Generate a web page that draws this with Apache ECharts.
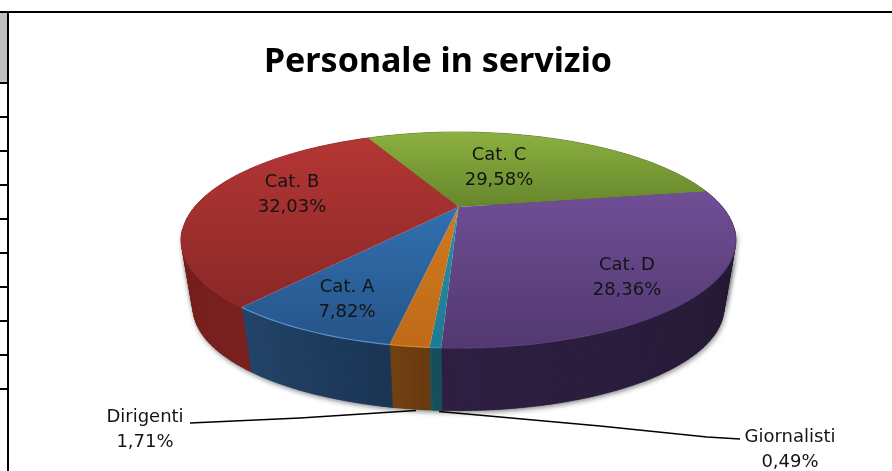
<!DOCTYPE html>
<html>
<head>
<meta charset="utf-8">
<style>
  html, body { margin: 0; padding: 0; background: #fff; }
  #chart { width: 892px; height: 471px; }
</style>
<script src="https://cdn.jsdelivr.net/npm/echarts@6/dist/echarts.min.js"></script>
</head>
<body>
<div id="chart"></div>
<script>
const categories = ['Cat. C', 'Cat. D', 'Giornalisti', 'Dirigenti', 'Cat. A', 'Cat. B'];
const percentages = [29.58, 28.36, 0.49, 1.71, 7.82, 32.03];

const topColors = [
  ['#8cb040', '#66862c'],
  ['#704e96', '#523870'],
  ['#2590a8', '#1f7a90'],
  ['#d07a20', '#be6a18'],
  ['#3270b0', '#265488'],
  ['#b43634', '#8a2827']
];
// first colour at the start of the slice, going clockwise
const wallColors = [
  ['#3e5218', '#4c6420'],
  ['#20162e', '#2e1f42'],
  ['#134854', '#175868'],
  ['#683810', '#74400f'],
  ['#1a3555', '#224468'],
  ['#7a201e', '#6c1c1a']
];
const rimColors = ['#8cb040', '#5a3f7c', '#2a90a8', '#d8862c', '#5a92cc', '#962c2a'];

// label centres, two lines each, same order as categories
const LABEL_POS = [[499, 168], [627, 278], [790, 450], [145, 430], [347, 300], [292, 195]];

const START_ANGLE = -26;
const STEP = 1.5;
// perspective disc, top face and bottom face of the pie
const TOP_FACE = { cx: 458.5, cy: 207, a: 264, b: 97.9 };
const BOTTOM_FACE = { cx: 458.5, cy: 276, a: 252.8, b: 93.5 };
const PERSPECTIVE = 0.3056;

const LABEL_FONT = '"DejaVu Sans", sans-serif';
const TABLE_ROWS = [83, 117, 151, 185, 219, 253, 287, 321, 355, 389];

function project(face, deg) {
  const t = deg * Math.PI / 180;
  const u = Math.sin(t);
  const v = -Math.cos(t);
  const w = 1 - PERSPECTIVE * v;
  return [face.cx + face.a * u / w, face.cy + face.b * v / w];
}

function arcPoints(face, from, to) {
  const pts = [];
  for (let d = from; d < to; d += STEP) pts.push(project(face, d));
  pts.push(project(face, to));
  return pts;
}

function isFront(deg) {
  return Math.cos(deg * Math.PI / 180) < -0.2;
}

const total = percentages.reduce((sum, p) => sum + p, 0);
let runningAngle = START_ANGLE;
const sliceRows = percentages.map((p, i) => {
  const from = runningAngle;
  runningAngle += p / total * 360;
  return [from, runningAngle, i];
});

function vertical(colors) {
  return new echarts.graphic.LinearGradient(0, 0, 0, 1, [
    { offset: 0, color: colors[0] },
    { offset: 1, color: colors[1] }
  ]);
}

// the wall has to be a strip of quads, one polygon would miss the silhouette at the sides
function wallQuads(from, to) {
  const quads = [];
  for (let d = from; d < to; d += STEP) {
    const next = Math.min(d + STEP, to);
    quads.push({
      mid: (d + next) / 2,
      points: [project(TOP_FACE, d), project(TOP_FACE, next), project(BOTTOM_FACE, next), project(BOTTOM_FACE, d)]
    });
  }
  return quads;
}

function renderShadow(params, api) {
  const quads = wallQuads(api.value(0), api.value(1)).filter(q => isFront(q.mid));
  return {
    type: 'group',
    children: quads.map(q => ({
      type: 'polygon',
      shape: { points: q.points },
      style: { fill: '#444', shadowBlur: 5, shadowColor: 'rgba(0,0,0,0.5)', shadowOffsetY: 2, shadowOffsetX: 1 }
    }))
  };
}

function renderWall(params, api) {
  const from = api.value(0);
  const to = api.value(1);
  const i = api.value(2);
  const children = wallQuads(from, to).map(q => {
    const color = echarts.color.lerp((q.mid - from) / (to - from), wallColors[i]);
    return {
      type: 'polygon',
      shape: { points: q.points },
      style: { fill: color, stroke: color, lineWidth: 0.6 }
    };
  });
  return { type: 'group', children };
}

function renderTop(params, api) {
  const from = api.value(0);
  const to = api.value(1);
  const i = api.value(2);
  const arc = arcPoints(TOP_FACE, from, to);
  const rim = [];
  for (let d = from; d < to; d += STEP) {
    if (isFront(d)) rim.push(project(TOP_FACE, d));
  }
  if (isFront(to)) rim.push(project(TOP_FACE, to));
  const children = [{
    type: 'polygon',
    shape: { points: [[TOP_FACE.cx, TOP_FACE.cy]].concat(arc) },
    style: { fill: vertical(topColors[i]) }
  }, {
    type: 'text',
    x: LABEL_POS[i][0],
    y: LABEL_POS[i][1],
    style: {
      text: categories[i] + '\n' + percentages[i].toFixed(2).replace('.', ',') + '%',
      font: '18px ' + LABEL_FONT,
      lineHeight: 25,
      fill: '#141414',
      align: 'center',
      verticalAlign: 'middle'
    }
  }];
  if (rim.length > 1) {
    children.push({
      type: 'polyline',
      shape: { points: rim },
      style: { fill: null, stroke: rimColors[i], lineWidth: 1.2 }
    });
  }
  return { type: 'group', children };
}

const tableLines = TABLE_ROWS.map(y => ({
  type: 'line',
  shape: { x1: 0, y1: y, x2: 7, y2: y },
  style: { stroke: '#000', lineWidth: 2 }
}));

const chart = echarts.init(document.getElementById('chart'), null, { renderer: 'canvas' });
chart.setOption({
  animation: false,
  backgroundColor: '#fff',
  title: {
    text: 'Personale in servizio',
    left: 433,
    top: 40,
    textAlign: 'center',
    textStyle: { fontFamily: '"Noto Sans", sans-serif', fontWeight: 'bold', fontSize: 34, color: '#000' }
  },
  graphic: [
    {
      type: 'rect',
      shape: { x: 0, y: 13, width: 7, height: 69 },
      style: { fill: '#c0c0c0' }
    },
    {
      type: 'line',
      shape: { x1: 0, y1: 12, x2: 892, y2: 12 },
      style: { stroke: '#000', lineWidth: 2 }
    },
    {
      type: 'line',
      shape: { x1: 8, y1: 12, x2: 8, y2: 471 },
      style: { stroke: '#000', lineWidth: 2 }
    },
    ...tableLines,
    {
      type: 'polyline',
      shape: { points: [[190, 423], [300, 418], [416, 410.5]] },
      style: { fill: null, stroke: '#000', lineWidth: 1.5 }
    },
    {
      type: 'polyline',
      shape: { points: [[439, 411.5], [600, 426], [707, 437], [740, 439]] },
      style: { fill: null, stroke: '#000', lineWidth: 1.5 }
    }
  ],
  series: [
    {
      name: 'Ombra',
      type: 'custom',
      coordinateSystem: 'none',
      renderItem: renderShadow,
      data: sliceRows,
      z: 1
    },
    {
      name: 'Fianchi',
      type: 'custom',
      coordinateSystem: 'none',
      renderItem: renderWall,
      data: sliceRows,
      z: 2
    },
    {
      name: 'Personale in servizio',
      type: 'custom',
      coordinateSystem: 'none',
      renderItem: renderTop,
      data: sliceRows,
      z: 3
    }
  ]
});
</script>
</body>
</html>
